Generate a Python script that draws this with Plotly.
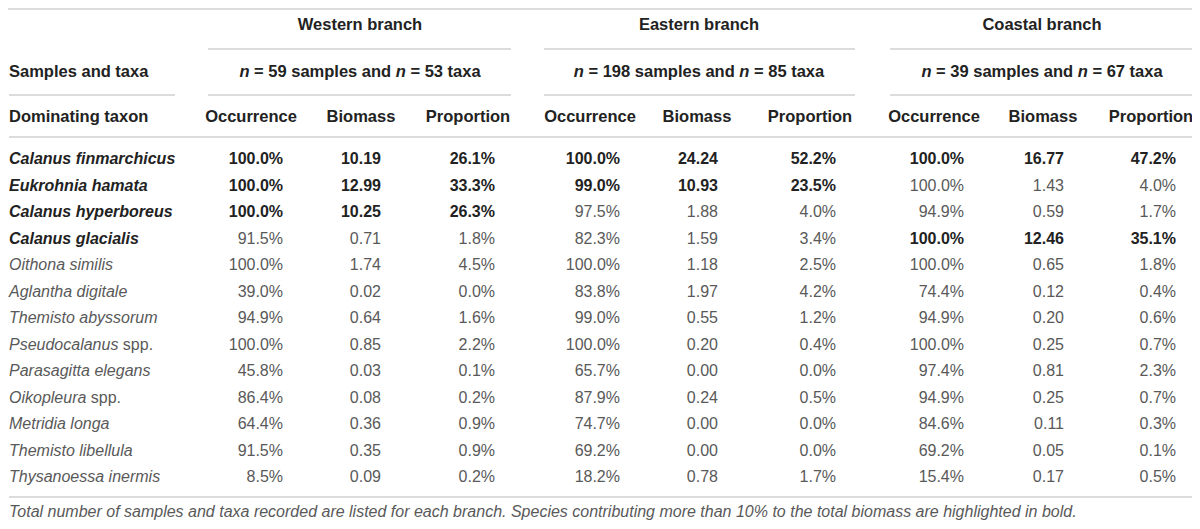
import plotly.graph_objects as go

# 表格数据
species = ["Calanus finmarchicus", "Eukrohnia hamata", "Calanus hyperboreus", "Calanus glacialis",
           "Oithona similis", "Aglantha digitale", "Themisto abyssorum", "Pseudocalanus spp.",
           "Parasagitta elegans", "Oikopleura spp.", "Metridia longa", "Themisto libellula",
           "Thysanoessa inermis"]
branches = ["Western branch", "Eastern branch", "Coastal branch"]
n_samples = [59, 198, 39]
n_taxa = [53, 85, 67]
col_names = ["Occurrence", "Biomass", "Proportion"]

west_occ = [100.0, 100.0, 100.0, 91.5, 100.0, 39.0, 94.9, 100.0, 45.8, 86.4, 64.4, 91.5, 8.5]
west_bio = [10.19, 12.99, 10.25, 0.71, 1.74, 0.02, 0.64, 0.85, 0.03, 0.08, 0.36, 0.35, 0.09]
west_prop = [26.1, 33.3, 26.3, 1.8, 4.5, 0.0, 1.6, 2.2, 0.1, 0.2, 0.9, 0.9, 0.2]
east_occ = [100.0, 99.0, 97.5, 82.3, 100.0, 83.8, 99.0, 100.0, 65.7, 87.9, 74.7, 69.2, 18.2]
east_bio = [24.24, 10.93, 1.88, 1.59, 1.18, 1.97, 0.55, 0.20, 0.00, 0.24, 0.00, 0.00, 0.78]
east_prop = [52.2, 23.5, 4.0, 3.4, 2.5, 4.2, 1.2, 0.4, 0.0, 0.5, 0.0, 0.0, 1.7]
coast_occ = [100.0, 100.0, 94.9, 100.0, 100.0, 74.4, 94.9, 100.0, 97.4, 94.9, 84.6, 69.2, 15.4]
coast_bio = [16.77, 1.43, 0.59, 12.46, 0.65, 0.12, 0.20, 0.25, 0.81, 0.25, 0.11, 0.05, 0.17]
coast_prop = [47.2, 4.0, 1.7, 35.1, 1.8, 0.4, 0.6, 0.7, 2.3, 0.7, 0.3, 0.1, 0.5]

footnote = ("Total number of samples and taxa recorded are listed for each branch. "
            "Species contributing more than 10% to the total biomass are highlighted in bold.")

# 版式参数（像素）
W, H = 1200, 529
PAD = 8  # 页面 body 的默认边距
LEFT = 9
FONT = "Liberation Sans"
DARK = "#222222"
GREY = "#595959"
LINE = "#dcdcdc"
row_y0, row_h = 160, 26.5
group_span = [(208, 511), (544, 855), (890, 1193)]
group_center = [360, 699, 1042]
col_center = [[251, 361, 468], [590, 697, 810], [934, 1043, 1151]]
col_right = [[283, 381, 495], [620, 718, 836], [964, 1064, 1176]]

data = [(west_occ, west_bio, west_prop), (east_occ, east_bio, east_prop), (coast_occ, coast_bio, coast_prop)]
rows_y = [row_y0 + row_h * i for i in range(len(species))]


def fmt_name(name, bold):
    if name.endswith(" spp."):
        s = "<i>" + name[:-5] + "</i> spp."
    else:
        s = "<i>" + name + "</i>"
    return "<b>" + s + "</b>" if bold else s


fig = go.Figure()

# 物种名
name_bold = [any(d[2][i] > 10 for d in data) for i in range(len(species))]
fig.add_trace(go.Scatter(
    x=[LEFT] * len(species), y=rows_y, mode="text",
    text=[fmt_name(s, b) for s, b in zip(species, name_bold)],
    textposition="middle right",
    textfont=dict(family=FONT, size=16, color=[DARK if b else GREY for b in name_bold]),
    hoverinfo="skip", cliponaxis=False,
))

# 数值列
for g, (occ, bio, prop) in enumerate(data):
    bold = [p > 10 for p in prop]
    cols = [[f"{v:.1f}%" for v in occ], [f"{v:.2f}" for v in bio], [f"{v:.1f}%" for v in prop]]
    for c, vals in enumerate(cols):
        fig.add_trace(go.Scatter(
            x=[col_right[g][c]] * len(vals), y=rows_y, mode="text",
            text=[f"<b>{v}</b>" if b else v for v, b in zip(vals, bold)],
            textposition="middle left",
            textfont=dict(family=FONT, size=16, color=[DARK if b else GREY for b in bold]),
            hoverinfo="skip", cliponaxis=False,
        ))

# 表头
hx, hy, ht = [], [], []
for g in range(3):
    hx += [group_center[g], group_center[g]]
    hy += [26, 73]
    ht += [f"<b>{branches[g]}</b>",
           f"<b><i>n</i> = {n_samples[g]} samples and <i>n</i> = {n_taxa[g]} taxa</b>"]
    for c in range(3):
        hx.append(col_center[g][c])
        hy.append(118)
        ht.append(f"<b>{col_names[c]}</b>")
fig.add_trace(go.Scatter(
    x=hx, y=hy, mode="text", text=ht, textposition="middle center",
    textfont=dict(family=FONT, size=16.5, color=DARK), hoverinfo="skip", cliponaxis=False,
))
fig.add_trace(go.Scatter(
    x=[LEFT, LEFT, LEFT], y=[73, 118, 513], mode="text",
    text=["<b>Samples and taxa</b>", "<b>Dominating taxon</b>", f"<i>{footnote}</i>"],
    textposition="middle right",
    textfont=dict(family=FONT, size=[16.5, 16.5, 16], color=[DARK, DARK, GREY]),
    hoverinfo="skip", cliponaxis=False,
))

# 分隔线
lines = [(PAD, 1195, 5 + PAD / 2), (LEFT, 175, 95), (LEFT, 1193, 137), (LEFT, 1193, 497)]
for a, b in group_span:
    lines += [(a, b, 49), (a, b, 95)]
for x0, x1, y in lines:
    fig.add_shape(type="line", x0=x0, x1=x1, y0=y, y1=y, xref="x", yref="y",
                  line=dict(color=LINE, width=2))

fig.update_xaxes(range=[PAD, W + PAD], visible=False, fixedrange=True)
fig.update_yaxes(range=[H + PAD, PAD], visible=False, fixedrange=True)
fig.update_layout(
    width=W, height=H, margin=dict(l=0, r=0, t=0, b=0),
    showlegend=False, plot_bgcolor="white", paper_bgcolor="white",
)

fig.write_html("out.html")
